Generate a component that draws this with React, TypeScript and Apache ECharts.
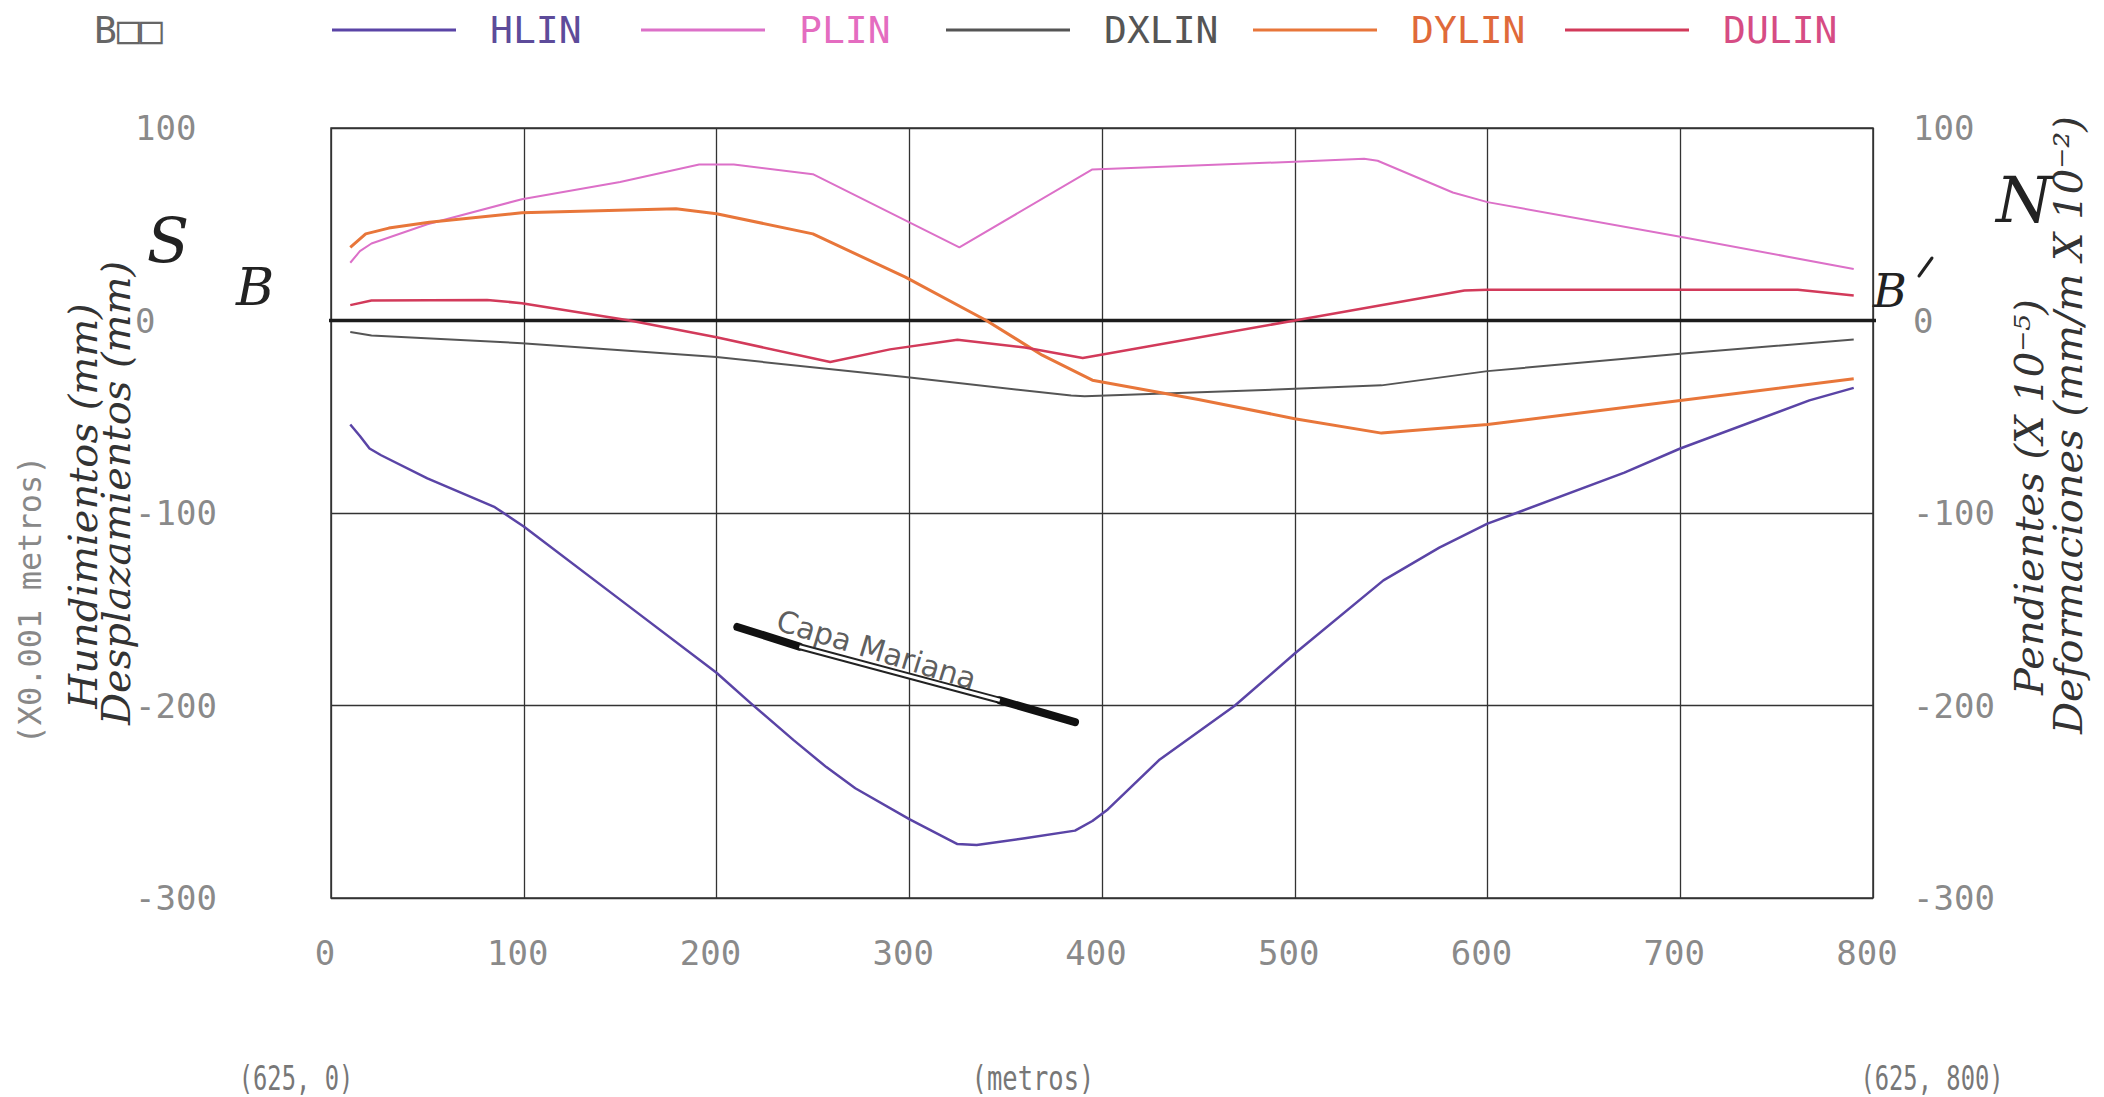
import React, { useEffect, useRef } from "react";
import * as echarts from "echarts";

// ---------- data (distance in metres, value) ----------
const SERIES_NAMES = ["HLIN", "PLIN", "DXLIN", "DYLIN", "DULIN"];

const HLIN = [
  [10, -54], [15, -60], [20, -66.5], [26, -70], [50, -82], [85, -97], [100, -107],
  [150, -145], [200, -183], [218, -199], [240, -218], [257, -232], [272, -243],
  [300, -259], [325, -272], [335, -272.5], [360, -269], [386, -265], [395, -260],
  [403, -254], [430, -228], [469, -200], [500, -173], [546, -135], [575, -118],
  [600, -105.5], [615, -100], [671, -79], [700, -66.5], [767, -41.5], [790, -35],
];

const PLIN = [
  [10, 30], [15, 36], [21, 40], [50, 50], [99, 63], [150, 72], [191, 81], [209, 81],
  [250, 76], [270, 66], [326, 38], [395, 78.5], [500, 82.5], [536, 84], [543, 83],
  [582, 66.5], [600, 61.5], [700, 43.5], [790, 26.8],
];

const DXLIN = [
  [10, -6], [21, -7.8], [99, -11.8], [200, -19], [298, -29.4], [384, -39], [391, -39.4],
  [500, -35.5], [545, -33.7], [600, -26.3], [700, -17.3], [790, -9.9],
];

const DYLIN = [
  [10, 38], [18, 45], [30, 48], [51, 51], [99, 56], [179, 58], [200, 55.5], [250, 45],
  [298, 22.5], [340, 0], [369, -18], [395, -31], [450, -41], [500, -51], [545, -58.5],
  [600, -54], [700, -41.5], [790, -30.3],
];

const DULIN = [
  [10, 8], [21, 10.4], [81, 10.7], [99, 9], [155, 0], [200, -8.7], [259, -21.6],
  [290, -15], [325, -10], [360, -14], [390, -19.5], [500, 0], [588, 15.6], [600, 16],
  [761, 16], [790, 13],
];

// B - B' section line (drawn through the axes, extends past the frame)
const SECTION_LINE = [[-50, 0], [817, 0]];

// "Capa Mariana" seam marker
const CAPA_END_LEFT = [[210.8, -159.2], [243, -169.4]];
const CAPA_MIDDLE = [[243, -169.4], [347, -197.3]];
const CAPA_END_RIGHT = [[347, -197.3], [386, -208.6]];
const CAPA_LABEL = [[283, -171]];

const X_MIN = 0, X_MAX = 800, X_STEP = 100;
const Y_MIN = -300, Y_MAX = 100, Y_STEP = 100;

const LINE_COLORS = ["#5a44a6", "#dc70c8", "#555555", "#e8763a", "#d23a5a"];
const LEGEND_TEXT_COLORS = ["#5d4b9a", "#e46cc0", "#555555", "#e06a3a", "#d64c84"];
const LINE_WIDTHS = [2.5, 2, 2, 3, 2.5];
const LEGEND_LEFT = [332, 641, 946, 1253, 1565];

const W = 2104;
const H = 1097;
const MONO = '"DejaVu Sans Mono", "Liberation Mono", monospace';
const HAND = '"DejaVu Serif", "Liberation Serif", serif';

function buildOption() {
  const seriesData = [HLIN, PLIN, DXLIN, DYLIN, DULIN];
  const dataSeries = SERIES_NAMES.map((name, i) => ({
    name,
    type: "line",
    data: seriesData[i],
    symbol: "none",
    smooth: false,
    z: 5,
    lineStyle: { color: LINE_COLORS[i], width: LINE_WIDTHS[i], join: "round" },
    itemStyle: { color: LINE_COLORS[i] },
  }));

  const extraSeries = [
    {
      name: "section",
      type: "line",
      data: SECTION_LINE,
      clip: false,
      symbol: "none",
      silent: true,
      z: 4,
      lineStyle: { color: "#1c1c1c", width: 3.5 },
    },
    {
      name: "capa1",
      type: "line",
      data: CAPA_END_LEFT,
      symbol: "none",
      silent: true,
      z: 6,
      lineStyle: { color: "#111", width: 8, cap: "round" },
    },
    {
      name: "capa2",
      type: "line",
      data: CAPA_MIDDLE,
      symbol: "none",
      silent: true,
      z: 6,
      lineStyle: { color: "#222", width: 7 },
    },
    {
      name: "capa2inner",
      type: "line",
      data: CAPA_MIDDLE,
      symbol: "none",
      silent: true,
      z: 7,
      lineStyle: { color: "#ffffff", width: 3 },
    },
    {
      name: "capa3",
      type: "line",
      data: CAPA_END_RIGHT,
      symbol: "none",
      silent: true,
      z: 6,
      lineStyle: { color: "#111", width: 8, cap: "round" },
    },
    {
      name: "capaLabel",
      type: "scatter",
      data: CAPA_LABEL,
      symbolSize: 0,
      silent: true,
      z: 8,
      label: {
        show: true,
        position: "inside",
        formatter: "Capa Mariana",
        rotate: -17,
        fontFamily: '"DejaVu Sans", sans-serif',
        fontSize: 30,
        color: "#333",
      },
    },
  ];

  const legends = SERIES_NAMES.map((name, i) => ({
    left: LEGEND_LEFT[i],
    top: 11,
    padding: 0,
    icon: "rect",
    itemWidth: 124,
    itemHeight: 3,
    itemGap: 0,
    selectedMode: false,
    data: [{ name, textStyle: { color: LEGEND_TEXT_COLORS[i] } }],
    textStyle: { fontFamily: MONO, fontSize: 38, padding: [0, 0, 0, 29] },
  }));

  const txt = (
    x: number,
    y: number,
    text: string,
    font: string,
    size: number,
    fill: string,
    extra: any = {},
    styleExtra: any = {}
  ) => ({
    type: "text",
    x,
    y,
    z: 10,
    silent: true,
    ...extra,
    style: {
      text,
      fontFamily: font,
      fontSize: size,
      fill,
      align: "center",
      verticalAlign: "middle",
      ...styleExtra,
    },
  });

  const ROT = Math.PI / 2;

  const graphic = [
    txt(94, 30, "B□□", MONO, 38, "#666", {}, { align: "left" }),
    txt(30, 600, "(X0.001 metros)", MONO, 32, "#888", { rotation: ROT }),
    txt(83, 506, "Hundimientos (mm)", HAND, 40, "#333", { rotation: ROT }, { fontStyle: "italic" }),
    txt(116, 493, "Desplazamientos (mm)", HAND, 40, "#333", { rotation: ROT }, { fontStyle: "italic" }),
    txt(2029, 497, "Pendientes (X 10⁻⁵)", HAND, 40, "#333", { rotation: ROT }, { fontStyle: "italic" }),
    txt(2068, 425, "Deformaciones (mm/m X 10⁻²)", HAND, 40, "#333", { rotation: ROT }, { fontStyle: "italic" }),
    txt(168, 240, "S", HAND, 62, "#222", {}, { fontStyle: "italic" }),
    txt(255, 287, "B", HAND, 52, "#222", {}, { fontStyle: "italic" }),
    txt(1890, 291, "B", HAND, 46, "#222", {}, { fontStyle: "italic" }),
    {
      type: "line",
      z: 10,
      silent: true,
      shape: { x1: 1919, y1: 276, x2: 1932, y2: 258 },
      style: { stroke: "#222", lineWidth: 3, lineCap: "round" },
    },
    txt(2024, 200, "N", HAND, 64, "#222", {}, { fontStyle: "italic" }),
    txt(296, 1078, "(625, 0)", MONO, 34, "#777", { scaleX: 0.7 }),
    txt(1033, 1078, "(metros)", MONO, 34, "#777", { scaleX: 0.75 }),
    txt(1932, 1078, "(625, 800)", MONO, 34, "#777", { scaleX: 0.7 }),
  ];

  const axisLabelStyle = {
    fontFamily: MONO,
    fontSize: 34,
    color: "#8a8a8a",
  };

  return {
    animation: false,
    backgroundColor: "#ffffff",
    grid: {
      left: 331,
      top: 128,
      width: 1542,
      height: 770,
      show: true,
      borderColor: "#333",
      borderWidth: 1.5,
      containLabel: false,
    },
    legend: legends,
    xAxis: {
      type: "value",
      min: X_MIN,
      max: X_MAX,
      interval: X_STEP,
      axisLine: { show: false },
      axisTick: { show: false },
      splitLine: { show: true, lineStyle: { color: "#333", width: 1.3 } },
      axisLabel: { ...axisLabelStyle, margin: 38, padding: [0, 12, 0, 0] },
    },
    yAxis: [
      {
        type: "value",
        position: "left",
        min: Y_MIN,
        max: Y_MAX,
        interval: Y_STEP,
        axisLine: { show: false },
        axisTick: { show: false },
        splitLine: { show: true, lineStyle: { color: "#333", width: 1.3 } },
        axisLabel: { ...axisLabelStyle, align: "left", margin: 196 },
      },
      {
        type: "value",
        position: "right",
        min: Y_MIN,
        max: Y_MAX,
        interval: Y_STEP,
        axisLine: { show: false },
        axisTick: { show: false },
        splitLine: { show: false },
        axisLabel: { ...axisLabelStyle, align: "left", margin: 40 },
      },
    ],
    series: [...extraSeries.slice(0, 1), ...dataSeries, ...extraSeries.slice(1)],
    graphic,
  };
}

export default function App() {
  const ref = useRef<HTMLDivElement>(null);
  useEffect(() => {
    document.body.style.margin = "0";
    const chart = echarts.init(ref.current!, null, { renderer: "svg", width: W, height: H });
    chart.setOption(buildOption() as any);
    return () => chart.dispose();
  }, []);
  return <div ref={ref} style={{ width: W, height: H, background: "#fff" }} />;
}
